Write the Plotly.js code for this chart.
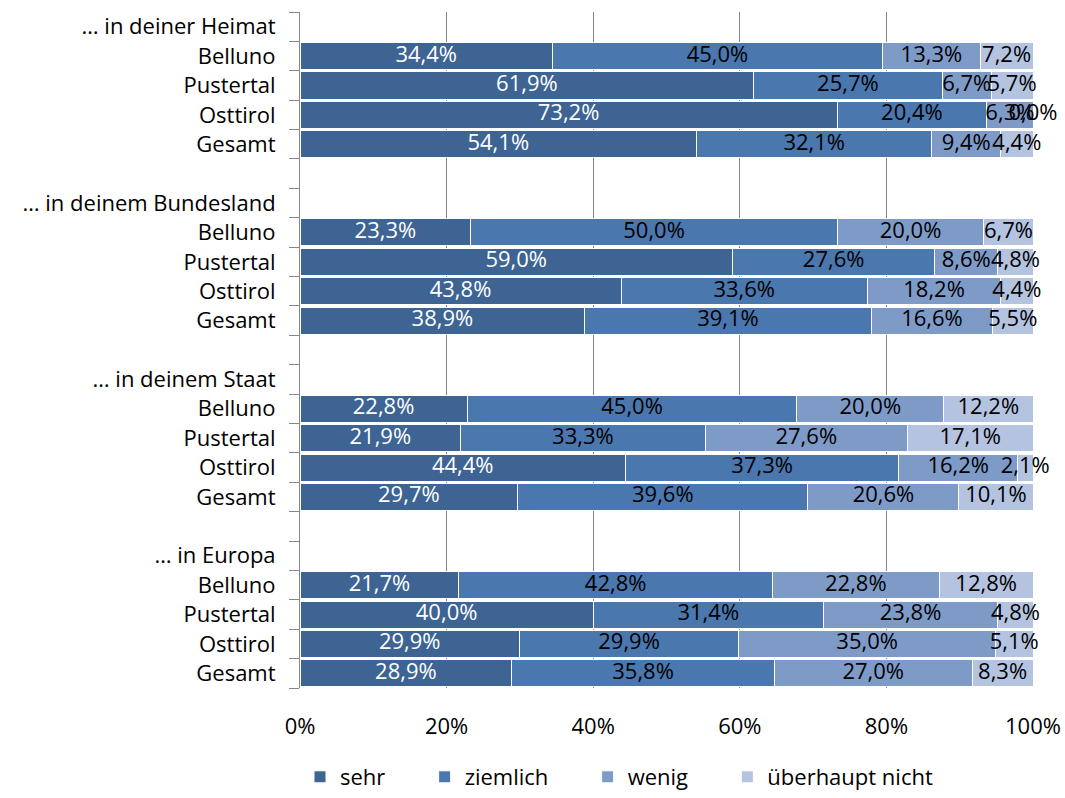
<!DOCTYPE html>
<html>
<head>
<meta charset="utf-8">
<script src="https://cdn.plot.ly/plotly-3.0.1.min.js"></script>
<style>html,body{margin:0;padding:0;background:#fff;}#chart{width:1065px;height:798px;}</style>
</head>
<body>
<div id="chart"></div>
<script>
// ---- data ----
const groupHeaders = ["… in deiner Heimat", "… in deinem Bundesland", "… in deinem Staat", "… in Europa"];
const sites = ["Belluno", "Pustertal", "Osttirol", "Gesamt"];
const seriesNames = ["sehr", "ziemlich", "wenig", "überhaupt nicht"];
const seriesColors = ["#3D6493", "#4A77AE", "#7E9BC8", "#B4C4E0"];
const labelColors = ["#FFFFFF", "#000000", "#000000", "#000000"];

// values per group, rows = sites, in series order
const heimat     = [[34.4, 45.0, 13.3, 7.2], [61.9, 25.7, 6.7, 5.7], [73.2, 20.4, 6.3, 0.0], [54.1, 32.1, 9.4, 4.4]];
const bundesland = [[23.3, 50.0, 20.0, 6.7], [59.0, 27.6, 8.6, 4.8], [43.8, 33.6, 18.2, 4.4], [38.9, 39.1, 16.6, 5.5]];
const staat      = [[22.8, 45.0, 20.0, 12.2], [21.9, 33.3, 27.6, 17.1], [44.4, 37.3, 16.2, 2.1], [29.7, 39.6, 20.6, 10.1]];
const europa     = [[21.7, 42.8, 22.8, 12.8], [40.0, 31.4, 23.8, 4.8], [29.9, 29.9, 35.0, 5.1], [28.9, 35.8, 27.0, 8.3]];
const groupValues = [heimat, bundesland, staat, europa];

const xTickVals = [0, 20, 40, 60, 80, 100];
const xTickText = ["0%", "20%", "40%", "60%", "80%", "100%"];

// ---- build rows ----
const rowLabels = [];
const dataRows = []; // {y, vals}
groupHeaders.forEach((h, gi) => {
  rowLabels.push(h);
  sites.forEach((s, si) => {
    dataRows.push({ y: rowLabels.length, vals: groupValues[gi][si] });
    rowLabels.push(s);
  });
  if (gi < groupHeaders.length - 1) rowLabels.push("");
});
const rowIdx = rowLabels.map((_, i) => i);

const FONT = "'Open Sans', Lato, sans-serif";
const FS = 22;
const fmt = v => v.toFixed(1).replace(".", ",") + "%";
const pad = "\u00a0".repeat(6);

const traces = [];
seriesNames.forEach((name, k) => {
  traces.push({
    type: "bar",
    orientation: "h",
    name: name + pad,
    y: dataRows.map(r => r.y),
    x: dataRows.map(r => r.vals[k] / r.vals.reduce((a, b) => a + b, 0) * 100),
    marker: { color: seriesColors[k], line: { color: "#FFFFFF", width: 1 } },
    hoverinfo: "x"
  });
});

// labels at segment midpoints
const lx = [], ly = [], lt = [], lc = [];
dataRows.forEach(r => {
  const tot = r.vals.reduce((a, b) => a + b, 0);
  let cum = 0;
  r.vals.forEach((v, k) => {
    const w = v / tot * 100;
    lx.push(Math.min(100, Math.round((cum + w / 2) * 1000) / 1000));
    ly.push(r.y);
    lt.push(fmt(v));
    lc.push(labelColors[k]);
    cum += w;
  });
});
traces.push({
  type: "scatter",
  mode: "text",
  x: lx, y: ly, text: lt,
  textposition: "middle center",
  textfont: { family: FONT, size: FS, color: lc },
  showlegend: false,
  hoverinfo: "skip",
  cliponaxis: false
});

const layout = {
  width: 1065, height: 798,
  margin: { l: 300, r: 32, t: 12, b: 110 },
  paper_bgcolor: "#FFFFFF", plot_bgcolor: "#FFFFFF",
  barmode: "stack",
  bargap: 0.08,
  font: { family: FONT, size: FS, color: "#000000" },
  xaxis: {
    range: [0, 100],
    tickvals: xTickVals, ticktext: xTickText,
    showgrid: true, gridcolor: "#878787", gridwidth: 1,
    zeroline: false, showline: false,
    ticks: "", ticklabelstandoff: 23,
    tickfont: { family: FONT, size: FS, color: "#000000" },
    fixedrange: true
  },
  yaxis: {
    range: [rowLabels.length - 0.5, -0.5],
    tickvals: rowIdx, ticktext: rowLabels,
    showgrid: false, zeroline: false,
    showline: true, linecolor: "#878787", linewidth: 1,
    ticks: "", ticklabelstandoff: 19,
    minor: { tick0: 0.5, dtick: 1, ticks: "outside", ticklen: 10, tickcolor: "#878787", tickwidth: 1, showgrid: false },
    tickfont: { family: FONT, size: FS, color: "#000000" },
    fixedrange: true
  },
  legend: {
    orientation: "h",
    x: 0.0, xanchor: "left",
    yref: "container", y: 0.0, yanchor: "bottom",
    font: { family: FONT, size: FS, color: "#000000" },
    traceorder: "normal"
  },
  showlegend: true
};

Plotly.newPlot("chart", traces, layout, { displayModeBar: false, staticPlot: true });
</script>
</body>
</html>
